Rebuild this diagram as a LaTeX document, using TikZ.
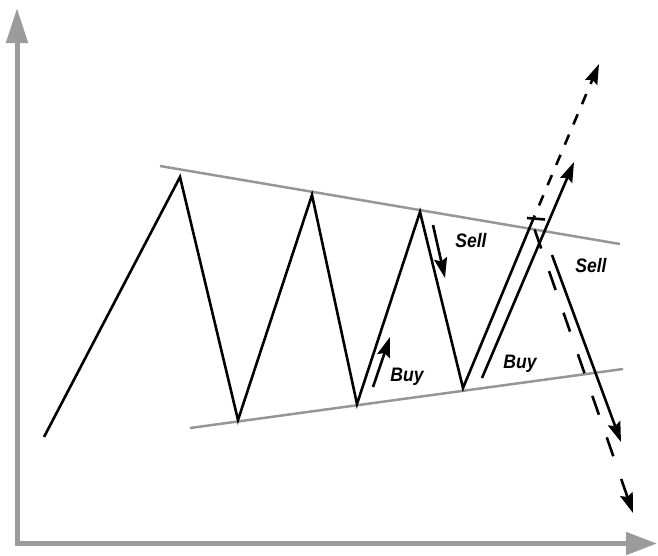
\documentclass[tikz,border=0pt]{standalone}
\usepackage{fontspec}
\newfontfamily\labelfont[FakeStretch=0.9]{Liberation Sans}
\usetikzlibrary{arrows.meta}
\definecolor{axisgray}{RGB}{155,155,155}
\definecolor{trendgray}{RGB}{150,150,150}

\begin{document}
\begin{tikzpicture}[x=1pt, y=-1pt, >={Stealth[length=20pt, width=13pt, inset=3pt]},
  axis/.style={draw=axisgray, line width=5pt},
  trend/.style={draw=trendgray, line width=2.5pt},
  price/.style={line width=2.6pt, line join=miter},
  lbl/.style={font=\labelfont\bfseries\itshape\fontsize{19.5}{19.5}\selectfont}]
  \useasboundingbox (0,0) rectangle (658,555);

  % axes
  \draw[axis, {Triangle[length=35pt, width=21pt]}-{Triangle[length=31pt, width=22pt]}]
    (17,8) -- (17,543.5) -- (657,543.5);

  % trend lines
  \draw[trend] (160,166) -- (620,244);
  \draw[trend] (190,428) -- (623,369);

  % price zigzag
  \coordinate (s)  at (44,437);
  \coordinate (p1) at (180,177);
  \coordinate (t1) at (238,420);
  \coordinate (p2) at (312,195);
  \coordinate (t2) at (357,404);
  \coordinate (p3) at (420,212);
  \coordinate (t3) at (463,388);
  \coordinate (br) at (532,222);
  \draw[price] (s) -- (p1) -- (t1) -- (p2) -- (t2) -- (p3) -- (t3) -- (br);

  % breakout and reversal
  \draw[line width=2.6pt] (527,218) -- (545,219.5);
  \draw[->, line width=2.6pt, dash pattern=on 11pt off 11pt, dash phase=4pt] (br) -- (599,64);
  \draw[->, line width=2.6pt, dash pattern=on 20pt off 24pt, dash phase=-8pt] (br) -- (633,513);

  % trade arrows
  \draw[->, line width=2.6pt] (433,225) -- (445,278);
  \draw[->, line width=2.6pt] (373,387) -- (390,337);
  \draw[->, line width=2.6pt] (482,378) -- (574,162);
  \draw[->, line width=2.6pt] (552,255) -- (621,442);

  % labels
  \node[lbl] (sell1) at (471,241) {Sell};
  \node[lbl] (buy1)  at (407,377) {Buy};
  \node[lbl] (buy2)  at (520,364) {Buy};
  \node[lbl] (sell2) at (591,266) {Sell};
\end{tikzpicture}
\end{document}
